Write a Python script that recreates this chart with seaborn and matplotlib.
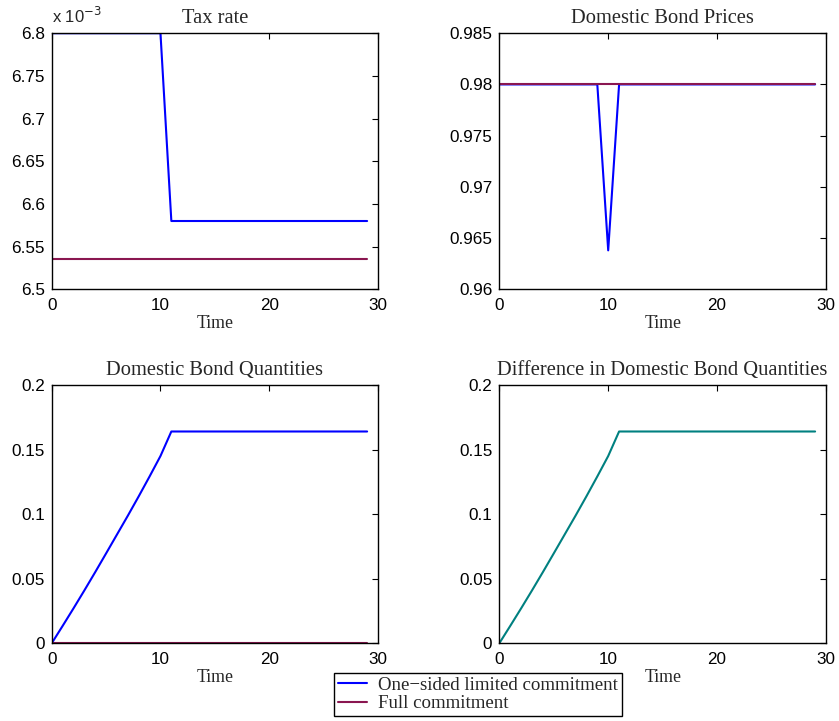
import numpy as np
import pandas as pd
import matplotlib
matplotlib.use("Agg")
import matplotlib.pyplot as plt
from matplotlib.ticker import FuncFormatter, FixedLocator
import seaborn as sns

# Time periods
time = list(range(30))

# Tax rate (levels)
tax_onesided = [6.8e-3] * 11 + [6.58e-3] * 19
tax_full = [6.536e-3] * 30

# Domestic bond prices
price_onesided = [0.98] * 10 + [0.9638] + [0.98] * 19
price_full = [0.98] * 30

# Domestic bond quantities
qty_ramp = [0.0, 0.0134, 0.0270, 0.0409, 0.0551, 0.0696, 0.0842,
            0.0988, 0.1138, 0.1292, 0.1450, 0.1640]
qty_onesided = qty_ramp + [0.1640] * (30 - len(qty_ramp))
qty_full = [0.0] * 30
qty_diff = [a - b for a, b in zip(qty_onesided, qty_full)]

label_onesided = "One\u2212sided limited commitment"
label_full = "Full commitment"

BLUE = "#0000ff"
MAROON = "#8a1650"
TEAL = "#008080"

sns.set_theme(style="white")
plt.rcParams["font.family"] = ["Liberation Sans", "DejaVu Sans"]
plt.rcParams["xtick.direction"] = "in"
plt.rcParams["ytick.direction"] = "in"

serif = ["Liberation Serif", "DejaVu Serif"]

fig = plt.figure(figsize=(8.39, 7.21), dpi=100)
W, H = 839, 721


def make_ax(x0, x1, ytop, ybot):
    return fig.add_axes([x0 / W, 1 - ybot / H, (x1 - x0) / W, (ybot - ytop) / H])


ax1 = make_ax(51.7, 378.0, 33.2, 289.3)
ax2 = make_ax(499.3, 826.0, 33.2, 289.3)
ax3 = make_ax(51.7, 378.0, 385.0, 643.3)
ax4 = make_ax(499.3, 826.0, 385.0, 643.3)

df = pd.DataFrame({
    "time": time,
    "tax_one": tax_onesided, "tax_full": tax_full,
    "p_one": price_onesided, "p_full": price_full,
    "q_one": qty_onesided, "q_full": qty_full, "q_diff": qty_diff,
})

lw = 1.5
sns.lineplot(data=df, x="time", y="tax_one", ax=ax1, color=BLUE, lw=lw, label=label_onesided)
sns.lineplot(data=df, x="time", y="tax_full", ax=ax1, color=MAROON, lw=lw, label=label_full)
sns.lineplot(data=df, x="time", y="p_one", ax=ax2, color=BLUE, lw=lw)
sns.lineplot(data=df, x="time", y="p_full", ax=ax2, color=MAROON, lw=lw)
sns.lineplot(data=df, x="time", y="q_one", ax=ax3, color=BLUE, lw=lw)
sns.lineplot(data=df, x="time", y="q_full", ax=ax3, color=MAROON, lw=lw)
sns.lineplot(data=df, x="time", y="q_diff", ax=ax4, color=TEAL, lw=lw)

handles, labels = ax1.get_legend_handles_labels()
ax1.get_legend().remove()

settings = [
    (ax1, "Tax rate", (6.5e-3, 6.8e-3), [6.5e-3, 6.55e-3, 6.6e-3, 6.65e-3, 6.7e-3, 6.75e-3, 6.8e-3]),
    (ax2, "Domestic Bond Prices", (0.96, 0.985), [0.96, 0.965, 0.97, 0.975, 0.98, 0.985]),
    (ax3, "Domestic Bond Quantities", (0, 0.2), [0, 0.05, 0.1, 0.15, 0.2]),
    (ax4, "Difference in Domestic Bond Quantities", (0, 0.2), [0, 0.05, 0.1, 0.15, 0.2]),
]

for ax, title, ylim, yticks in settings:
    ax.set_xlim(0, 30)
    ax.set_ylim(*ylim)
    ax.xaxis.set_major_locator(FixedLocator([0, 10, 20, 30]))
    ax.yaxis.set_major_locator(FixedLocator(yticks))
    ax.set_title(title, fontsize=14.8, family=serif, pad=7)
    ax.set_xlabel("Time", fontsize=12.8, family=serif, labelpad=2)
    ax.set_ylabel("")
    ax.tick_params(axis="both", which="major", labelsize=12.3, length=4, width=0.8,
                   direction="in", top=True, right=True, colors="black")
    ax.tick_params(axis="x", pad=6)
    ax.tick_params(axis="y", pad=5)
    for s in ax.spines.values():
        s.set_color("black")
        s.set_linewidth(1.0)
    ax.grid(False)

ax1.yaxis.set_major_formatter(FuncFormatter(lambda v, p: f"{v * 1e3:g}"))
ax2.yaxis.set_major_formatter(FuncFormatter(lambda v, p: f"{v:g}"))
ax3.yaxis.set_major_formatter(FuncFormatter(lambda v, p: f"{v:g}"))
ax4.yaxis.set_major_formatter(FuncFormatter(lambda v, p: f"{v:g}"))
ax1.text(0.0, 1.03, r"x 10$^{-3}$", transform=ax1.transAxes, fontsize=12,
         ha="left", va="bottom")

leg = fig.legend(handles, labels, loc="center", bbox_to_anchor=(478 / W, 1 - 694.5 / H),
                 frameon=True, fancybox=False, edgecolor="black", framealpha=1,
                 prop={"family": serif, "size": 13.6}, handlelength=1.5,
                 borderpad=0.2, labelspacing=0.05, handletextpad=0.6, borderaxespad=0)
leg.get_frame().set_linewidth(1.0)

fig.savefig("out.png", dpi=100, facecolor="white")
